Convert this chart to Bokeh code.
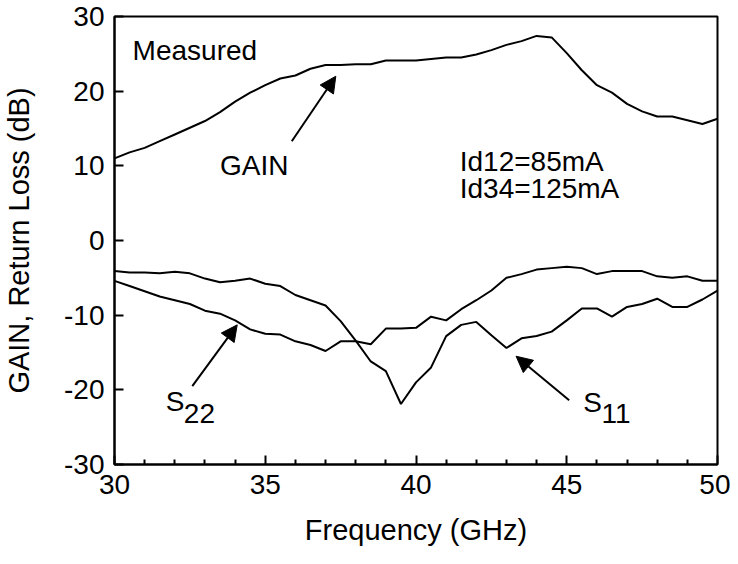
from bokeh.plotting import figure
from bokeh.models import Range1d, FixedTicker, Arrow, NormalHead, ColumnDataSource
from bokeh.core.properties import value
from bokeh.embed import file_html
from bokeh.resources import INLINE

freq = [30.0, 30.5, 31.0, 31.5, 32.0, 32.5, 33.0, 33.5, 34.0, 34.5,
        35.0, 35.5, 36.0, 36.5, 37.0, 37.5, 38.0, 38.5, 39.0, 39.5,
        40.0, 40.5, 41.0, 41.5, 42.0, 42.5, 43.0, 43.5, 44.0, 44.5,
        45.0, 45.5, 46.0, 46.5, 47.0, 47.5, 48.0, 48.5, 49.0, 49.5, 50.0]
gain = [11.0, 11.8, 12.4, 13.3, 14.2, 15.1, 16.0, 17.2, 18.6, 19.8,
        20.8, 21.7, 22.1, 23.0, 23.5, 23.5, 23.6, 23.6, 24.1, 24.1,
        24.1, 24.3, 24.5, 24.5, 24.9, 25.5, 26.2, 26.7, 27.4, 27.2,
        25.1, 22.8, 20.8, 19.8, 18.3, 17.3, 16.6, 16.6, 16.1, 15.6, 16.3]
s11 = [-4.1, -4.3, -4.3, -4.4, -4.2, -4.4, -5.1, -5.6, -5.4, -5.1,
       -5.8, -6.1, -7.3, -8.0, -8.7, -10.8, -13.4, -16.2, -17.5, -21.9,
       -19.0, -17.0, -12.8, -11.3, -10.9, -12.7, -14.4, -13.1, -12.8, -12.2,
       -10.7, -9.1, -9.1, -10.2, -8.9, -8.5, -7.8, -8.9, -8.9, -7.9, -6.7]
s22 = [-5.4, -6.1, -6.8, -7.5, -8.0, -8.5, -9.4, -9.8, -10.7, -11.9,
       -12.5, -12.6, -13.5, -14.0, -14.8, -13.5, -13.5, -13.9, -11.8, -11.8,
       -11.7, -10.2, -10.7, -9.2, -8.0, -6.7, -5.0, -4.5, -3.9, -3.7,
       -3.5, -3.7, -4.5, -4.1, -4.1, -4.1, -4.8, -5.0, -4.8, -5.4, -5.4]

x_ticks = [30, 35, 40, 45, 50]
x_minor = [31, 32, 33, 34, 36, 37, 38, 39, 41, 42, 43, 44, 46, 47, 48, 49]
y_ticks = [-30, -20, -10, 0, 10, 20, 30]
y_tick_labels = ["-30", "-20", "-10", "0", "10", "20", "30"]

x_title = "Frequency (GHz)"
y_title = "GAIN, Return Loss (dB)"

FONT = "Liberation Sans"
FS_TICK = "28px"
FS_TITLE = "29px"
FS_NOTE = "28px"

p = figure(width=730, height=548, output_backend="svg", toolbar_location=None,
           x_range=Range1d(30, 50), y_range=Range1d(-30, 30),
           min_border_left=114, min_border_right=13, min_border_top=16, min_border_bottom=84,
           background_fill_color="white", border_fill_color="white")
p.grid.visible = False
p.outline_line_color = "black"
p.outline_line_width = 2

p.xaxis.ticker = FixedTicker(ticks=x_ticks, minor_ticks=x_minor)
p.yaxis.ticker = FixedTicker(ticks=y_ticks, minor_ticks=[])
p.yaxis.major_label_overrides = {t: l for t, l in zip(y_ticks, y_tick_labels)}
p.xaxis.major_label_overrides = {t: str(t) for t in x_ticks}
for ax in (p.xaxis[0], p.yaxis[0]):
    ax.axis_line_color = "black"
    ax.axis_line_width = 2
    ax.major_tick_in = 9
    ax.major_tick_out = 0
    ax.minor_tick_in = 5
    ax.minor_tick_out = 0
    ax.major_tick_line_width = 2
    ax.minor_tick_line_width = 2
    ax.major_tick_line_color = "black"
    ax.minor_tick_line_color = "black"
    ax.major_label_text_font = FONT
    ax.major_label_text_font_size = FS_TICK
    ax.major_label_text_color = "black"
    ax.axis_label_text_font = FONT
    ax.axis_label_text_font_size = FS_TITLE
    ax.axis_label_text_font_style = "normal"
    ax.axis_label_text_color = "black"
p.xaxis.major_label_standoff = 10
p.yaxis.major_label_standoff = 10
p.xaxis.axis_label = x_title
p.yaxis.axis_label = y_title
p.xaxis.axis_label_standoff = 17
p.yaxis.axis_label_standoff = 26

src = ColumnDataSource(dict(f=freq, gain=gain, s11=s11, s22=s22))
for col in ("gain", "s11", "s22"):
    p.line("f", col, source=src, line_color="black", line_width=2)

def txt(x, y, t):
    p.text(x=[x], y=[y], text=[t], text_font=value(FONT), text_font_size=FS_NOTE,
           text_color="black", text_baseline="alphabetic", text_align="left")

txt(30.6, 25.4, "Measured")
txt(33.5, 10.0, "GAIN")
txt(41.45, 10.6, "Id12=85mA")
txt(41.45, 6.9, "Id34=125mA")
txt(31.7, -21.6, "S")
txt(32.3, -23.2, "22")
txt(45.55, -21.7, "S")
txt(46.15, -23.2, "11")

def arrow(x0, y0, x1, y1):
    p.add_layout(Arrow(x_start=x0, y_start=y0, x_end=x1, y_end=y1,
                       line_color="black", line_width=2,
                       end=NormalHead(size=16, fill_color="black", line_color="black")))

arrow(35.88, 13.3, 37.34, 22.0)
arrow(32.58, -19.5, 34.07, -11.3)
arrow(45.08, -21.4, 43.32, -15.5)

open("out.html", "w").write(file_html(p, INLINE))
